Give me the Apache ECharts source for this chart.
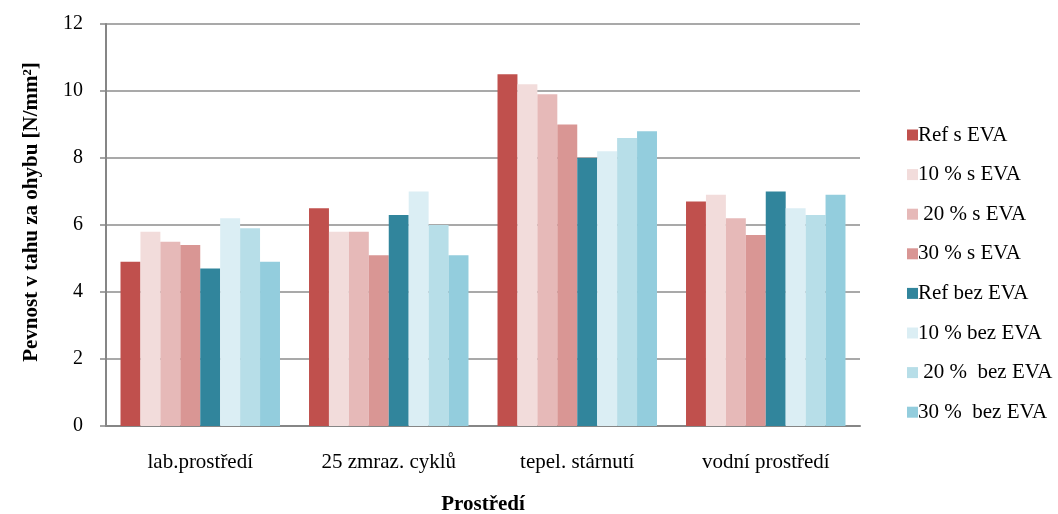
<!DOCTYPE html>
<html>
<head>
<meta charset="utf-8">
<script src="https://cdn.jsdelivr.net/npm/echarts@6/dist/echarts.min.js"></script>
<style>
  html, body { margin: 0; padding: 0; background: #fff; }
  #chart { width: 1058px; height: 514px; }
</style>
</head>
<body>
<div id="chart"></div>
<script>
// kategorie (prostředí)
var categories = ['lab.prostředí', '25 zmraz. cyklů', 'tepel. stárnutí', 'vodní prostředí'];

// názvy řad jak v legendě
var seriesNames = ['Ref s EVA', '10 % s EVA', ' 20 % s EVA', '30 % s EVA',
                   'Ref bez EVA', '10 % bez EVA', ' 20 %  bez EVA', '30 %  bez EVA'];

// hodnoty [N/mm2]
var refS     = [4.9, 6.5, 10.5, 6.7];
var s10      = [5.8, 5.8, 10.2, 6.9];
var s20      = [5.5, 5.8, 9.9, 6.2];
var s30      = [5.4, 5.1, 9.0, 5.7];
var refBez   = [4.7, 6.3, 8.0, 7.0];
var bez10    = [6.2, 7.0, 8.2, 6.5];
var bez20    = [5.9, 6.0, 8.6, 6.3];
var bez30    = [4.9, 5.1, 8.8, 6.9];

var colors = ['#C0504D', '#F2DCDB', '#E6B9B8', '#D99694',
              '#31859C', '#DBEEF4', '#B7DEE8', '#93CDDD'];

var values = [refS, s10, s20, s30, refBez, bez10, bez20, bez30];
var font = '"Liberation Serif", "Times New Roman", serif';

var myChart = echarts.init(document.getElementById('chart'));

var series = values.map(function (v, i) {
    return {
        name: seriesNames[i],
        type: 'bar',
        data: v,
        barGap: '0%',
        barCategoryGap: '15.4%',
        itemStyle: { color: colors[i] },
        animation: false
    };
});

var option = {
    animation: false,
    textStyle: { fontFamily: font },
    grid: { left: 106, right: 198, top: 24, bottom: 88, outerBoundsMode: 'none', containLabel: false },
    legend: {
        orient: 'vertical',
        left: 902,
        top: 119.5,
        itemWidth: 11,
        itemHeight: 11,
        itemGap: 18.6,
        icon: 'rect',
        textStyle: { fontFamily: font, fontSize: 21, lineHeight: 21, color: '#000', padding: [0, 0, 0, -5] },
        data: seriesNames
    },
    xAxis: {
        type: 'category',
        data: categories,
        name: 'Prostředí',
        nameLocation: 'middle',
        nameGap: 68,
        nameTextStyle: { fontFamily: font, fontSize: 21, fontWeight: 'bold', color: '#000' },
        axisLine: { lineStyle: { color: '#868686', width: 2 } },
        axisTick: { show: false },
        axisLabel: { fontFamily: font, fontSize: 21, color: '#000', margin: 26 }
    },
    yAxis: {
        type: 'value',
        min: 0,
        max: 12,
        interval: 2,
        name: 'Pevnost v tahu za ohybu [N/mm²]',
        nameLocation: 'middle',
        nameGap: 64,
        nameTextStyle: { fontFamily: font, fontSize: 21, fontWeight: 'bold', color: '#000', padding: [0, 0, 0, 26] },
        axisLine: { show: true, lineStyle: { color: '#868686', width: 2 } },
        axisTick: { show: true, length: 6, lineStyle: { color: '#868686', width: 1.5 } },
        axisLabel: { fontFamily: font, fontSize: 20, color: '#000', margin: 23 },
        splitLine: { lineStyle: { color: '#8c8c8c', width: 1.5 } }
    },
    series: series
};

myChart.setOption(option);
</script>
</body>
</html>
